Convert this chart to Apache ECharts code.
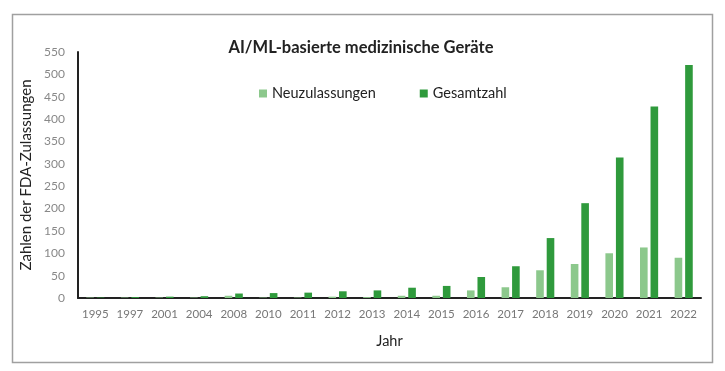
<!DOCTYPE html>
<html><head><meta charset="utf-8">
<script src="https://cdn.jsdelivr.net/npm/echarts@6/dist/echarts.min.js"></script>
<style>html,body{margin:0;padding:0;background:#fff}#c{width:725px;height:371px}</style>
</head><body><div id="c"></div>
<script>
const years = ['1995','1997','2001','2004','2008','2010','2011','2012','2013','2014','2015','2016','2017','2018','2019','2020','2021','2022'];
const neuzulassungen = [1,1,1,1,5,1,1,3,2,5,5,17,24,62,76,100,113,90];
const gesamtzahl = [1,2,3,4,10,11,12,15,17,23,27,47,71,134,212,314,428,521];
const yTicks = [0,50,100,150,200,250,300,350,400,450,500,550];

const chart = echarts.init(document.getElementById('c'), null, {renderer:'canvas'});
const font = 'Lato, "Open Sans", sans-serif';
chart.setOption({
  animation:false,
  backgroundColor:'#fff',
  graphic:[{type:'rect',shape:{x:12.5,y:14.5,width:700,height:348},style:{fill:'none',stroke:'#a0a0a0',lineWidth:1.5},silent:true}],
  title:{text:'AI/ML-basierte medizinische Geräte',left:356,textAlign:'center',top:34,
    textStyle:{fontFamily:font,fontSize:16.5,fontWeight:'bold',color:'#222'}},
  legend:{top:81,left:254,itemGap:44,itemWidth:8,itemHeight:8,icon:'rect',
    textStyle:{fontFamily:font,fontSize:14.5,color:'#222'},
    data:['Neuzulassungen','Gesamtzahl']},
  grid:{left:78,right:24,top:52,bottom:73},
  xAxis:{type:'category',data:years,name:'Jahr',nameLocation:'middle',nameGap:36,
    nameTextStyle:{fontFamily:font,fontSize:14.5,color:'#222'},
    axisLine:{lineStyle:{color:'#222',width:2}},axisTick:{show:false},
    axisLabel:{interval:0,fontFamily:font,fontSize:11.5,color:'#777',margin:10}},
  yAxis:{type:'value',min:0,max:550,interval:50,name:'Zahlen der FDA-Zulassungen',nameLocation:'middle',nameGap:38,
    nameTextStyle:{fontFamily:font,fontSize:15,color:'#222'},
    axisLine:{show:true,lineStyle:{color:'#222',width:2}},axisTick:{show:false},splitLine:{show:false},
    axisLabel:{fontFamily:font,fontSize:12,color:'#888',margin:13,
      formatter:v=>yTicks.includes(v)?String(v):''}},
  series:[
    {name:'Neuzulassungen',type:'bar',data:neuzulassungen,barWidth:'22%',barGap:'38%',itemStyle:{color:'#8cc88c'}},
    {name:'Gesamtzahl',type:'bar',data:gesamtzahl,barWidth:'22%',itemStyle:{color:'#2f9a3c'}}
  ]
});
</script></body></html>
